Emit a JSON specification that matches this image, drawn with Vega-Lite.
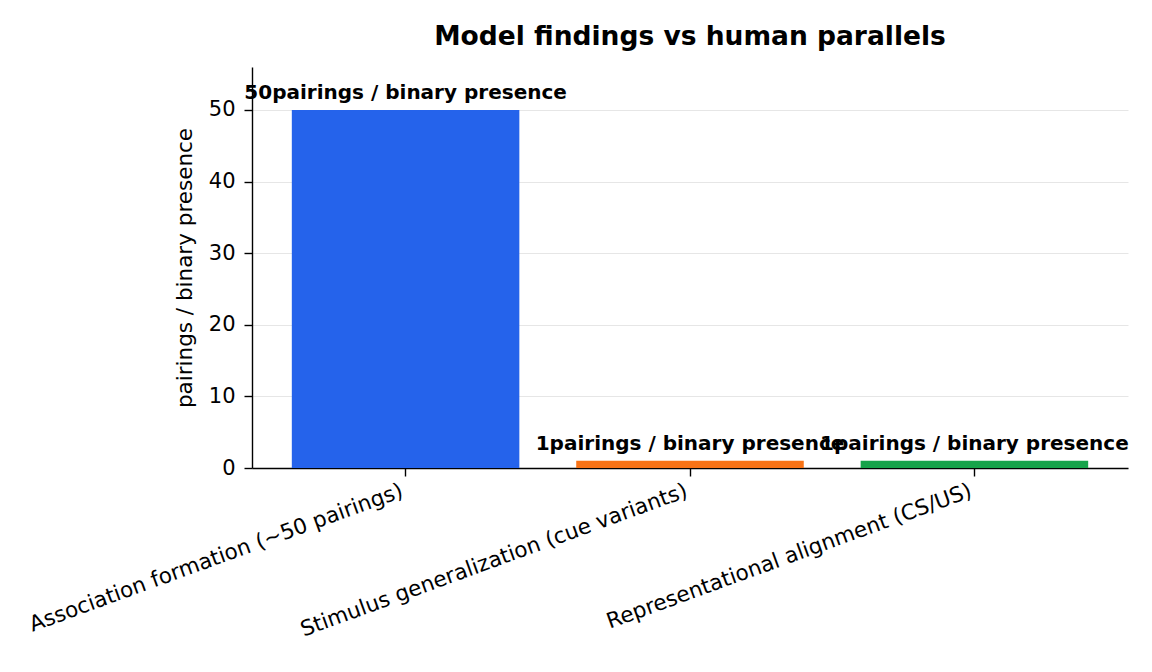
{
  "$schema": "https://vega.github.io/schema/vega-lite/v6.json",
  "width": 876,
  "height": 401,
  "autosize": "none",
  "padding": {"left": 252, "top": 67, "right": 24, "bottom": 204},
  "background": "white",
  "config": {
    "font": "DejaVu Sans",
    "view": {"stroke": null},
    "axis": {"labelFont": "DejaVu Sans", "titleFont": "DejaVu Sans", "labelColor": "black", "titleColor": "black", "domainColor": "black", "tickColor": "black", "domainWidth": 1.4, "tickWidth": 1.4, "tickSize": 8}
  },
  "title": {"text": "Model findings vs human parallels", "fontSize": 26.5, "fontWeight": "bold", "font": "DejaVu Sans", "color": "black", "anchor": "middle", "offset": 17},
  "data": {"values": [
    {"category": "Association formation (~50 pairings)", "value": 50, "label": "50pairings / binary presence"},
    {"category": "Stimulus generalization (cue variants)", "value": 1, "label": "1pairings / binary presence"},
    {"category": "Representational alignment (CS/US)", "value": 1, "label": "1pairings / binary presence"}
  ]},
  "encoding": {
    "x": {"field": "category", "type": "nominal", "sort": null,
      "scale": {"paddingInner": 0.2, "paddingOuter": 0.14},
      "axis": {"title": null, "labelAngle": -20, "labelAlign": "right", "labelBaseline": "top", "labelFontSize": 21.5, "labelPadding": 4, "labelOffset": -7, "labelLimit": 0, "grid": false}},
    "y": {"field": "value", "type": "quantitative",
      "scale": {"domain": [0, 56], "nice": false},
      "axis": {"title": "pairings / binary presence", "titleFontSize": 21.5, "titleFontWeight": "normal", "titlePadding": 12, "labelFontSize": 21, "labelPadding": 9, "values": [0, 10, 20, 30, 40, 50], "grid": true, "gridColor": "#e6e6e6", "gridWidth": 1}}
  },
  "layer": [
    {"mark": {"type": "bar"},
     "encoding": {"color": {"field": "category", "type": "nominal", "sort": null, "legend": null,
        "scale": {"range": ["#2563eb", "#f97316", "#16a34a"]}}}},
    {"mark": {"type": "text", "fontWeight": "bold", "fontSize": 20, "baseline": "bottom", "dy": -7, "color": "black"},
     "encoding": {"text": {"field": "label"}}}
  ]
}
